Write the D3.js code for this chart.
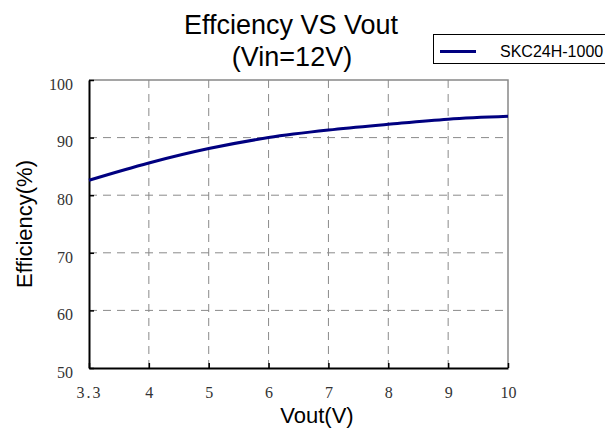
<!DOCTYPE html>
<html>
<head>
<meta charset="utf-8">
<script src="https://cdn.jsdelivr.net/npm/d3@7"></script>
<style>
  body { margin: 0; background: white; }
  svg { display: block; }
</style>
</head>
<body>
<div id="chart"></div>
<script>
// data
const vout_labels = ["3.3", "4", "5", "6", "7", "8", "9", "10"];
const efficiency = [82.6, 85.6, 88.1, 90.0, 91.3, 92.3, 93.2, 93.7];
const y_ticks = [50, 60, 70, 80, 90, 100];
const series_name = "SKC24H-1000";

const ttl_width = 605, ttl_height = 429;
const margin = {top: 80, right: 97, bottom: 61, left: 89};
const width = ttl_width - margin.left - margin.right;
const height = ttl_height - margin.top - margin.bottom;

const svg = d3.select("#chart")
  .append("svg")
  .attr("width", ttl_width)
  .attr("height", ttl_height);

svg.append("rect")
  .attr("width", "100%")
  .attr("height", "100%")
  .attr("fill", "white");

const x = d3.scalePoint().domain(vout_labels).range([0, width]);
const y = d3.scaleLinear().domain([50, 100]).range([height, 0]);

const g = svg.append("g")
  .attr("transform", "translate(" + margin.left + "," + margin.top + ")");

// dashed grid
g.append("g")
  .selectAll("line")
  .data(y_ticks.slice(1, -1))
  .enter()
  .append("line")
  .attr("x1", 0).attr("x2", width)
  .attr("y1", d => y(d)).attr("y2", d => y(d))
  .attr("stroke", "#8a8a8a")
  .attr("stroke-width", 1)
  .attr("stroke-dasharray", "8,6");

g.append("g")
  .selectAll("line")
  .data(vout_labels.slice(1, -1))
  .enter()
  .append("line")
  .attr("x1", d => x(d)).attr("x2", d => x(d))
  .attr("y1", 0).attr("y2", height)
  .attr("stroke", "#8a8a8a")
  .attr("stroke-width", 1)
  .attr("stroke-dasharray", "8,6");

// top and right frame
g.append("path")
  .attr("d", "M0,0H" + width + "V" + height)
  .attr("fill", "none")
  .attr("stroke", "#888")
  .attr("stroke-width", 1.5);

// bottom axis
const xAxis = g.append("g")
  .attr("transform", "translate(0," + height + ")")
  .call(d3.axisBottom(x).tickSize(-5).tickSizeOuter(0).tickPadding(19));
xAxis.select(".domain").attr("stroke", "#000").attr("stroke-width", 2);
xAxis.selectAll(".tick line").attr("stroke", "#000").attr("stroke-width", 1.5);
xAxis.selectAll(".tick text")
  .attr("font-family", "'Liberation Serif', 'DejaVu Serif', serif")
  .attr("font-size", 16)
  .attr("fill", "#333")
  .attr("letter-spacing", d => d.indexOf(".") >= 0 ? 2 : 0);

// left axis
const yAxis = g.append("g")
  .call(d3.axisLeft(y).tickValues(y_ticks).tickSize(-5).tickSizeOuter(0).tickPadding(16));
yAxis.select(".domain").attr("stroke", "#000").attr("stroke-width", 2);
yAxis.selectAll(".tick line").attr("stroke", "#000").attr("stroke-width", 1.5);
yAxis.selectAll(".tick text")
  .attr("font-family", "'Liberation Serif', 'DejaVu Serif', serif")
  .attr("font-size", 16)
  .attr("fill", "#333")
  .attr("dy", "0.58em");

// series
const line = d3.line()
  .x((d, i) => x(vout_labels[i]))
  .y(d => y(d))
  .curve(d3.curveMonotoneX);

g.append("path")
  .datum(efficiency)
  .attr("d", line)
  .attr("fill", "none")
  .attr("stroke", "#000080")
  .attr("stroke-width", 3);

// titles
const sans = "'Liberation Sans', Arial, sans-serif";
svg.append("text")
  .attr("x", 291).attr("y", 34)
  .attr("text-anchor", "middle")
  .attr("font-family", sans)
  .attr("font-size", 27)
  .text("Effciency VS Vout");
svg.append("text")
  .attr("x", 292).attr("y", 66)
  .attr("text-anchor", "middle")
  .attr("font-family", sans)
  .attr("font-size", 27)
  .text("(Vin=12V)");

svg.append("text")
  .attr("x", 317).attr("y", 423)
  .attr("text-anchor", "middle")
  .attr("font-family", sans)
  .attr("font-size", 22)
  .text("Vout(V)");

svg.append("text")
  .attr("transform", "translate(32,224) rotate(-90)")
  .attr("text-anchor", "middle")
  .attr("font-family", sans)
  .attr("font-size", 22)
  .text("Efficiency(%)");

// legend
const legend = svg.append("g").attr("transform", "translate(433,34)");
legend.append("rect")
  .attr("x", 0.5).attr("y", 0.5)
  .attr("width", 180).attr("height", 29)
  .attr("fill", "white")
  .attr("stroke", "#000")
  .attr("stroke-width", 1);
legend.append("line")
  .attr("x1", 7).attr("x2", 43)
  .attr("y1", 17.5).attr("y2", 17.5)
  .attr("stroke", "#000080")
  .attr("stroke-width", 3);
legend.append("text")
  .attr("x", 67).attr("y", 23)
  .attr("font-family", sans)
  .attr("font-size", 16)
  .text(series_name);
</script>
</body>
</html>
